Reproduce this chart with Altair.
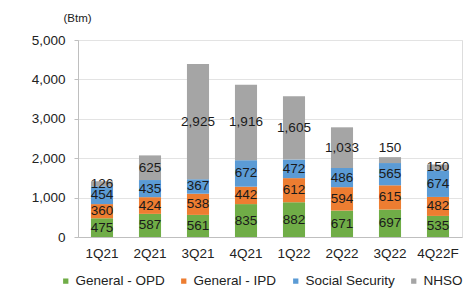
import altair as alt
import pandas as pd

quarters = ["1Q21", "2Q21", "3Q21", "4Q21", "1Q22", "2Q22", "3Q22", "4Q22F"]
series = ["General - OPD", "General - IPD", "Social Security", "NHSO"]
colors = ["#70AD47", "#ED7D31", "#5B9BD5", "#A5A5A5"]
opd = [475, 587, 561, 835, 882, 671, 697, 535]
ipd = [360, 424, 538, 442, 612, 594, 615, 482]
sso = [454, 435, 367, 672, 472, 486, 565, 674]
nhso = [126, 625, 2925, 1916, 1605, 1033, 150, 150]

rows = []
for si, (name, vals) in enumerate(zip(series, [opd, ipd, sso, nhso])):
    for q, v in zip(quarters, vals):
        rows.append({"quarter": q, "series": name, "value": v, "idx": si})
df = pd.DataFrame(rows)

font = "Liberation Sans"

base = alt.Chart(df).transform_stack(
    stack="value", groupby=["quarter"], as_=["y0", "y1"], sort=[alt.SortField("idx")]
)

yscale = alt.Scale(domain=[0, 5000])
xscale = alt.Scale(paddingInner=0.54, paddingOuter=0.27)
xaxis = alt.Axis(labelAngle=0, labelFont=font, labelFontSize=13.5, labelColor="#222",
                 ticks=False, domainColor="#BFBFBF", labelPadding=9, grid=False)
yaxis = alt.Axis(values=[0, 1000, 2000, 3000, 4000, 5000], format=",d",
                 labelFont=font, labelFontSize=13.5, labelColor="#222",
                 gridColor="#E3E3E3", domainColor="#BFBFBF", tickColor="#BFBFBF",
                 tickSize=4, labelPadding=9,
                 title="(Btm)", titleAngle=0, titleAlign="center", titleBaseline="middle",
                 titleX=-1, titleY=-22, titleFont=font, titleFontSize=11.5,
                 titleFontWeight="normal", titleColor="#222")

bars = base.mark_bar().encode(
    x=alt.X("quarter:N", sort=quarters, title=None, scale=xscale, axis=xaxis),
    y=alt.Y("y0:Q", scale=yscale, axis=yaxis, title="(Btm)"),
    y2="y1:Q",
    color=alt.Color("series:N", sort=series,
                    scale=alt.Scale(domain=series, range=colors),
                    legend=alt.Legend(title=None, orient="none", direction="horizontal",
                                      legendX=-19, legendY=234, symbolType="square", symbolSize=28,
                                      labelFont=font, labelFontSize=13.5, labelColor="#222",
                                      columnPadding=12, labelOffset=3, symbolStrokeWidth=0)),
    order=alt.Order("idx:Q"),
)

labels = base.transform_calculate(
    ly="(datum.series == 'NHSO' && datum.quarter == '3Q22') ? datum.y1 + 230 : (datum.y0 + datum.y1) / 2",
    lab="format(datum.value, ',')",
).mark_text(font=font, fontSize=13.5, color="#1a1a1a", baseline="middle").encode(
    x=alt.X("quarter:N", sort=quarters, title=None, scale=xscale, axis=xaxis),
    y=alt.Y("ly:Q", scale=yscale, axis=yaxis, title="(Btm)"),
    text="lab:N",
)

chart = alt.layer(bars, labels).properties(
    width=384, height=197,
    autosize=alt.AutoSizeParams(type="none"),
    padding={"left": 70, "top": 32, "right": 6, "bottom": 60},
).configure_view(stroke=None).configure(background="white")

chart.save("out.html", embed_options={"renderer": "svg", "actions": False})
